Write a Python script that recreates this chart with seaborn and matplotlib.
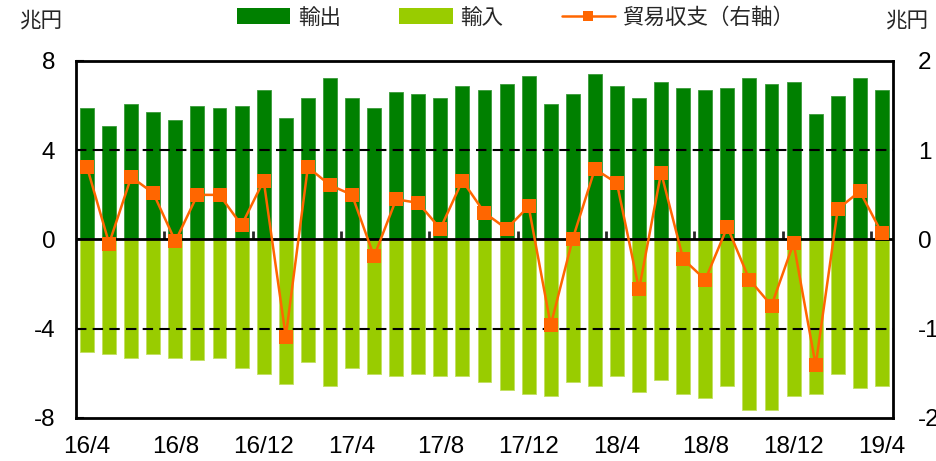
import numpy as np
import pandas as pd
import seaborn as sns
import matplotlib.pyplot as plt
from matplotlib.patches import Patch
from matplotlib.lines import Line2D

sns.set_style('white')
plt.rcParams['font.family'] = ['Liberation Sans', 'Noto Sans CJK JP']
plt.rcParams['axes.unicode_minus'] = False

# 月次データ（兆円）16/4 ～ 19/4
months = [f'{p.year % 100}/{p.month}' for p in pd.period_range('2016-04', periods=37, freq='M')]
exports = [5.88, 5.07, 6.06, 5.70, 5.34, 5.97, 5.88, 5.97, 6.68, 5.43, 6.33, 7.22, 6.33,
           5.88, 6.59, 6.50, 6.33, 6.86, 6.68, 6.95, 7.31, 6.06, 6.50, 7.40, 6.86, 6.33,
           7.04, 6.77, 6.68, 6.77, 7.22, 6.95, 7.04, 5.61, 6.41, 7.22, 6.68]
imports = [-5.06, -5.15, -5.31, -5.15, -5.31, -5.42, -5.31, -5.77, -6.04, -6.49, -5.51, -6.58, -5.77,
           -6.04, -6.13, -6.04, -6.13, -6.13, -6.40, -6.76, -6.93, -7.02, -6.40, -6.58, -6.10, -6.85,
           -6.31, -6.93, -7.11, -6.58, -7.65, -7.65, -7.02, -6.93, -6.04, -6.67, -6.58]
balance = [0.81, -0.045, 0.70, 0.52, -0.02, 0.50, 0.50, 0.16, 0.66, -1.09, 0.81, 0.61, 0.50,
           -0.19, 0.45, 0.41, 0.12, 0.66, 0.30, 0.12, 0.37, -0.96, 0.01, 0.79, 0.63, -0.56,
           0.75, -0.22, -0.45, 0.14, -0.45, -0.74, -0.04, -1.41, 0.34, 0.54, 0.07]

df = pd.DataFrame({'month': months, 'exports': exports, 'imports': imports, 'balance': balance})
df['pos'] = np.arange(len(df))

c_exp = '#008000'
c_imp = '#99CC00'
c_bal = '#FF6600'
num_fs = 17.5
jp_fs = 15.5

fig = plt.figure(figsize=(9.36, 4.61), dpi=100)
ax = fig.add_axes([0.0812, 0.0933, 0.8728, 0.7744])

sns.barplot(data=df, x='month', y='exports', color=c_exp, width=0.63, saturation=1,
            edgecolor='#3a9a3a', linewidth=0.6, ax=ax)
sns.barplot(data=df, x='month', y='imports', color=c_imp, width=0.63, saturation=1,
            edgecolor='#c2e060', linewidth=0.6, ax=ax)

ax.set_ylim(-8, 8)
ax.set_xlim(-0.5, len(df) - 0.5)
ax.set_yticks([-8, -4, 0, 4, 8])
ax.set_xticks(range(0, len(df), 4))
ax.set_xticklabels(months[::4])
ax.set_xlabel('')
ax.set_ylabel('')
ax.tick_params(axis='x', length=0, pad=13, labelsize=num_fs, colors='black')
ax.tick_params(axis='y', direction='in', length=6, width=1.5, pad=15, labelsize=num_fs, colors='black')
for s in ax.spines.values():
    s.set_color('black')
    s.set_linewidth(2)

for yv in [4, -4]:
    ax.axhline(yv, color='black', lw=1.5, dashes=(5, 3), zorder=3)
ax.axhline(0, color='black', lw=2, zorder=3)

# 4か月ごとの区切り目盛り（ゼロ線上）
sec = ax.secondary_xaxis(0.5)
sec.set_xticks(np.arange(3.5, len(df), 4))
sec.tick_params(axis='x', direction='out', length=6, width=2, labeltop=False, labelbottom=False)
sec.spines['top'].set_visible(False)
sec.spines['bottom'].set_visible(False)

ax2 = ax.twinx()
sns.lineplot(data=df, x='pos', y='balance', color=c_bal, lw=1.8, marker='s', markersize=10,
             markeredgewidth=0, sort=False, ax=ax2)
if ax2.get_legend() is not None:
    ax2.get_legend().remove()
ax2.set_ylim(-2, 2)
ax2.set_yticks([-2, -1, 0, 1, 2])
ax2.set_ylabel('')
ax2.set_xlabel('')
ax2.tick_params(axis='y', length=0, pad=18, labelsize=num_fs, colors='black')
ax2.set_xlim(-0.5, len(df) - 0.5)
for s in ax2.spines.values():
    s.set_visible(False)

fig.text(0.043, 0.955, '兆円', fontsize=jp_fs, ha='center', va='center', family=['Noto Sans CJK JP'])
fig.text(0.969, 0.955, '兆円', fontsize=jp_fs, ha='center', va='center', family=['Noto Sans CJK JP'])

handles = [Patch(facecolor=c_exp, edgecolor='none'),
           Patch(facecolor=c_imp, edgecolor='none'),
           Line2D([0], [0], color=c_bal, lw=1.8, marker='s', markersize=7, markeredgewidth=0)]
fig.legend(handles, ['輸出', '輸入', '貿易収支（右軸）'], loc='center', bbox_to_anchor=(0.551, 0.962),
           ncol=3, frameon=False, handlelength=2.5, handleheight=0.8, handletextpad=0.35,
           columnspacing=2.7, prop={'family': ['Noto Sans CJK JP'], 'size': jp_fs})

fig.savefig('out.png', dpi=100)
